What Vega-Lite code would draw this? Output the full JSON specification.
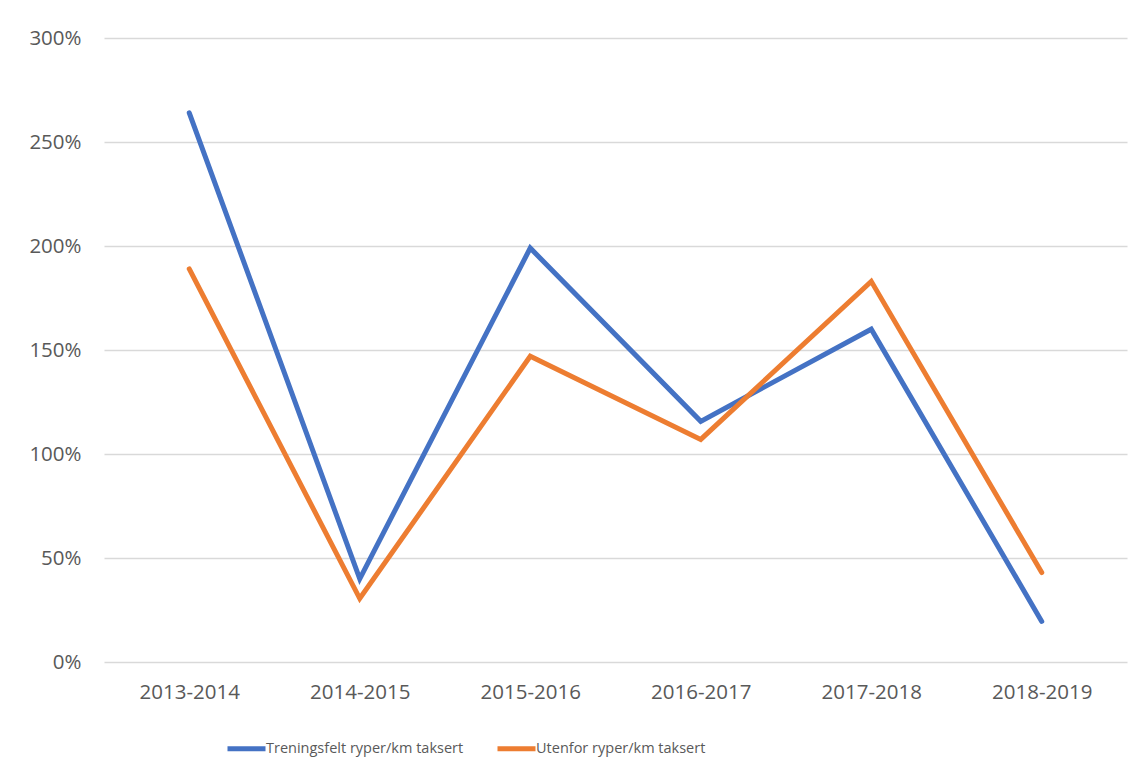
{
  "$schema": "https://vega.github.io/schema/vega-lite/v6.json",
  "autosize": {"type": "none"},
  "width": 1023,
  "height": 624,
  "padding": {"left": 104, "top": 38, "right": 15, "bottom": 118},
  "background": "white",
  "config": {
    "view": {"stroke": null},
    "font": "Open Sans",
    "axis": {"labelColor": "#595959", "labelFont": "Open Sans"}
  },
  "data": {
    "values": [
      {"period": "2013-2014", "series": "Treningsfelt ryper/km taksert", "value": 2.64},
      {"period": "2014-2015", "series": "Treningsfelt ryper/km taksert", "value": 0.40},
      {"period": "2015-2016", "series": "Treningsfelt ryper/km taksert", "value": 1.99},
      {"period": "2016-2017", "series": "Treningsfelt ryper/km taksert", "value": 1.157},
      {"period": "2017-2018", "series": "Treningsfelt ryper/km taksert", "value": 1.60},
      {"period": "2018-2019", "series": "Treningsfelt ryper/km taksert", "value": 0.195},
      {"period": "2013-2014", "series": "Utenfor ryper/km taksert", "value": 1.89},
      {"period": "2014-2015", "series": "Utenfor ryper/km taksert", "value": 0.305},
      {"period": "2015-2016", "series": "Utenfor ryper/km taksert", "value": 1.47},
      {"period": "2016-2017", "series": "Utenfor ryper/km taksert", "value": 1.07},
      {"period": "2017-2018", "series": "Utenfor ryper/km taksert", "value": 1.83},
      {"period": "2018-2019", "series": "Utenfor ryper/km taksert", "value": 0.43}
    ]
  },
  "mark": {"type": "line", "strokeWidth": 5, "strokeCap": "round", "strokeJoin": "miter"},
  "encoding": {
    "x": {
      "field": "period",
      "type": "ordinal",
      "scale": {"type": "point", "padding": 0.5},
      "axis": {
        "title": null,
        "labelAngle": 0,
        "domain": false,
        "ticks": false,
        "grid": false,
        "labelFontSize": 20.5,
        "labelPadding": 20
      }
    },
    "y": {
      "field": "value",
      "type": "quantitative",
      "scale": {"domain": [0, 3], "nice": false, "zero": true},
      "axis": {
        "title": null,
        "values": [0, 0.5, 1, 1.5, 2, 2.5, 3],
        "format": ".0%",
        "domain": false,
        "ticks": false,
        "gridColor": "#d9d9d9",
        "gridWidth": 1.3,
        "labelFontSize": 20.5,
        "labelPadding": 23,
        "labelBaseline": "middle"
      }
    },
    "color": {
      "field": "series",
      "type": "nominal",
      "scale": {
        "domain": ["Treningsfelt ryper/km taksert", "Utenfor ryper/km taksert"],
        "range": ["#4472C4", "#ED7D31"]
      },
      "legend": {
        "title": null,
        "orient": "none",
        "direction": "horizontal",
        "legendX": 121,
        "legendY": 689,
        "padding": 0,
        "symbolType": "stroke",
        "symbolSize": 1444,
        "symbolStrokeWidth": 5,
        "labelFontSize": 14.5,
        "labelLimit": 500,
        "labelColor": "#595959",
        "labelFont": "Open Sans",
        "labelOffset": -2,
        "columnPadding": 23
      }
    }
  }
}
